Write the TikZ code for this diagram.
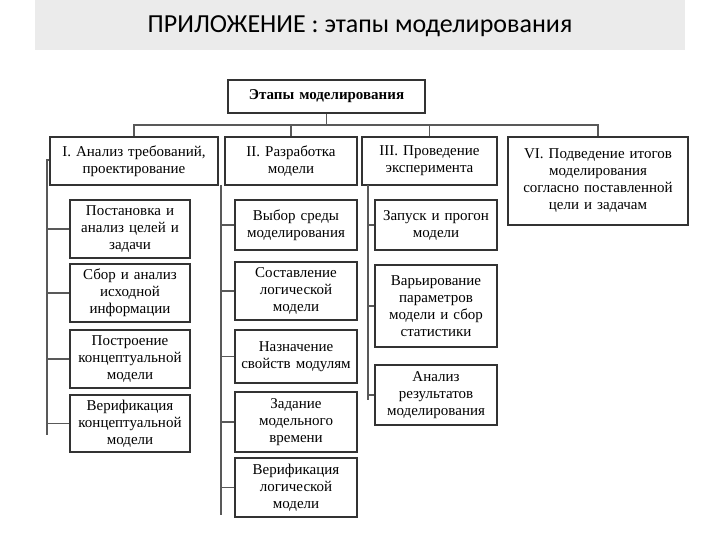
\documentclass[tikz,border=0pt]{standalone}
\usepackage{fontspec}
\setmainfont{Liberation Serif}
\newfontfamily\titlefont{Carlito}
\begin{document}
\begin{tikzpicture}[x=1pt,y=-1pt,
 bx/.style={draw=black!80,line width=1.6pt,align=center,font=\fontsize{15}{17}\selectfont,inner sep=0pt},
 ln/.style={draw=black!65,line width=1.5pt}]
\useasboundingbox (0,0) rectangle (720,540);
\fill[black!8] (35,0) rectangle (685,50);
\node[font=\titlefont\fontsize{26}{28}\selectfont] (title) at (360,26) {ПРИЛОЖЕНИЕ : этапы моделирования};
\newcommand\bxat[6]{\node[bx,minimum width={#4-#2},minimum height={#5-#3},text width={#4-#2}] (#1) at ({(#2+#4)/2},{(#3+#5)/2}) {#6};}
\bxat{top}{228}{80}{425}{113}{\textbf{Этапы моделирования}}
\bxat{c1}{50}{137}{218}{185}{I. Анализ требований,\\проектирование}
\bxat{c2}{225}{137}{357}{185}{II. Разработка\\модели}
\bxat{c3}{362}{137}{497}{185}{III. Проведение\\эксперимента}
\bxat{c4}{508}{137}{688}{225}{VI. Подведение итогов\\моделирования\\согласно поставленной\\цели и задачам}
\bxat{a1}{70}{200}{190}{258}{Постановка и\\анализ целей и\\задачи}
\bxat{a2}{70}{264}{190}{322}{Сбор и анализ\\исходной\\информации}
\bxat{a3}{70}{330}{190}{388}{Построение\\концептуальной\\модели}
\bxat{a4}{70}{395}{190}{452}{Верификация\\концептуальной\\модели}
\bxat{b1}{235}{200}{357}{250}{Выбор среды\\моделирования}
\bxat{b2}{235}{262}{357}{320}{Составление\\логической\\модели}
\bxat{b3}{235}{330}{357}{383}{Назначение\\свойств модулям}
\bxat{b4}{235}{392}{357}{452}{Задание\\модельного\\времени}
\bxat{b5}{235}{458}{357}{517}{Верификация\\логической\\модели}
\bxat{d1}{375}{200}{497}{250}{Запуск и прогон\\модели}
\bxat{d2}{375}{265}{497}{347}{Варьирование\\параметров\\модели и сбор\\статистики}
\bxat{d3}{375}{365}{497}{425}{Анализ\\результатов\\моделирования}
\coordinate (bus) at (326.5,125);
\draw[ln] (top.south) -- (bus);
\draw[ln] (c1.north) |- (bus) -| (c4.north);
\draw[ln] (c2.north) -- (c2.north|-bus);
\draw[ln] (c3.north) -- (c3.north|-bus);
\coordinate (v1) at (47,160);
\draw[ln] (c1.west|-v1) -- (v1) -- (47,435);
\foreach \n in {a1,a2,a3,a4} \draw[ln] (47,0|-\n.west) -- (\n.west);
\draw[ln] (221,185) -- (221,515);
\foreach \n in {b1,b2,b3,b4,b5} \draw[ln] (221,0|-\n.west) -- (\n.west);
\draw[ln] (368,185) -- (368,400);
\foreach \n in {d1,d2,d3} \draw[ln] (368,0|-\n.west) -- (\n.west);
\end{tikzpicture}
\end{document}
